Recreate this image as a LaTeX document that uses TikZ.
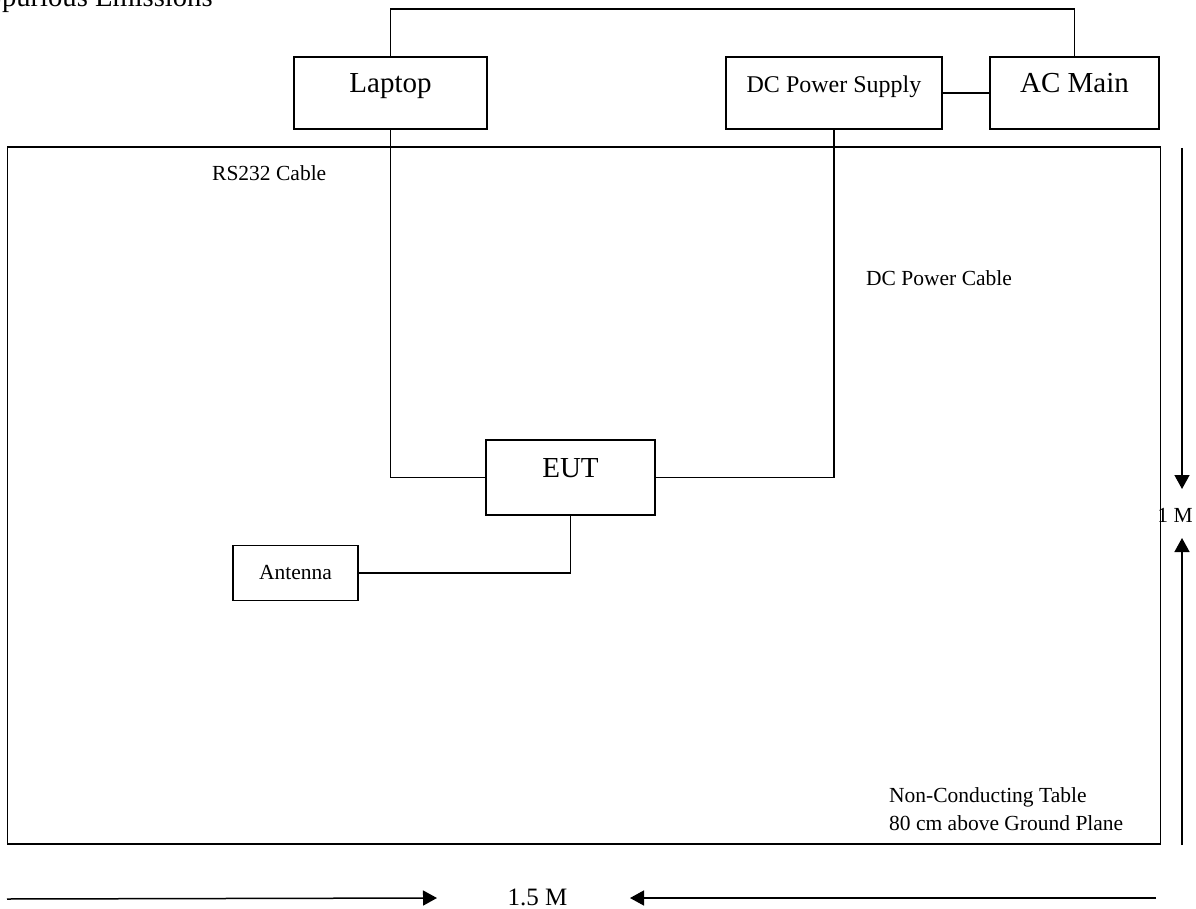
\documentclass[tikz,border=0pt]{standalone}
\usepackage{fontspec}
\setmainfont{Liberation Serif}
\usetikzlibrary{arrows.meta}
\begin{document}
\begin{tikzpicture}[x=1pt,y=-1pt,
  wire/.style={line width=1.5pt},
  box/.style={draw,line width=1.5pt,rectangle,inner sep=0pt},
  bigtxt/.style={font=\fontsize{29}{34}\selectfont},
  midtxt/.style={font=\fontsize{24}{28}\selectfont},
  smalltxt/.style={font=\fontsize{21.5}{28}\selectfont},
  toptext/.style={text height=20pt,text depth=20pt},
  arr/.style={line width=1.5pt,-{Triangle[length=14pt,width=15pt]}},
  lbl/.style={inner sep=0pt,anchor=base west}]
\useasboundingbox (0,0) rectangle (1196,909);
% title (partly cut off at the page edge)
\begin{scope}
\clip (0,0) rectangle (1196,909);
\node[lbl,font=\fontsize{28.6}{34}\selectfont] (title) at (-14,7) {Spurious Emissions};
\end{scope}
% table
\node[box,minimum width=1153pt,minimum height=697pt] (tbl) at (584,495.5) {};
% boxes
\node[box,bigtxt,toptext,minimum width=193pt,minimum height=72pt] (lap) at (390.5,93) {Laptop};
\node[box,midtxt,toptext,minimum width=216pt,minimum height=72pt] (dc) at (834,93) {DC Power Supply};
\node[box,bigtxt,toptext,minimum width=169pt,minimum height=72pt] (ac) at (1074.5,93) {AC Main};
\node[box,bigtxt,toptext,minimum width=169pt,minimum height=75pt] (eut) at (570.5,477.5) {EUT};
\node[box,smalltxt,minimum width=125pt,minimum height=55pt] (ant) at (295.5,573) {Antenna};
% wires
\draw[wire] (lap.north) -- ++(0,-47) -| (ac.north);
\draw[wire] (dc.east) -- (ac.west);
\draw[wire] (lap.south) |- (eut.west);
\draw[wire] (dc.south) |- (eut.east);
\draw[wire] (eut.south) |- (ant.east);
% labels
\node[lbl,smalltxt] (rs) at (212,181) {RS232 Cable};
\node[lbl,smalltxt] (dcc) at (866,285) {DC Power Cable};
\node[lbl,smalltxt] (nct) at (889,802) {Non-Conducting Table};
\node[lbl,smalltxt] (gp) at (889,830) {80 cm above Ground Plane};
% dimension arrows
\node[smalltxt,inner sep=0pt] (onem) at (1175,515) {1 M};
\coordinate (r1) at (1182,148);
\coordinate (r1t) at (1182,489);
\coordinate (r2) at (1182,845);
\coordinate (r2t) at (1182,538);
\draw[arr] (r1) -- (r1t);
\draw[arr] (r2) -- (r2t);
\node[font=\fontsize{25}{30}\selectfont,inner sep=0pt,anchor=base] (onefive) at (537.5,905.5) {1.5 M};
\coordinate (b1) at (7,899);
\coordinate (b1t) at (437,898);
\coordinate (b2) at (1156,898);
\coordinate (b2t) at (630,898);
\draw[arr] (b1) -- (b1t);
\draw[arr] (b2) -- (b2t);
\end{tikzpicture}
\end{document}
